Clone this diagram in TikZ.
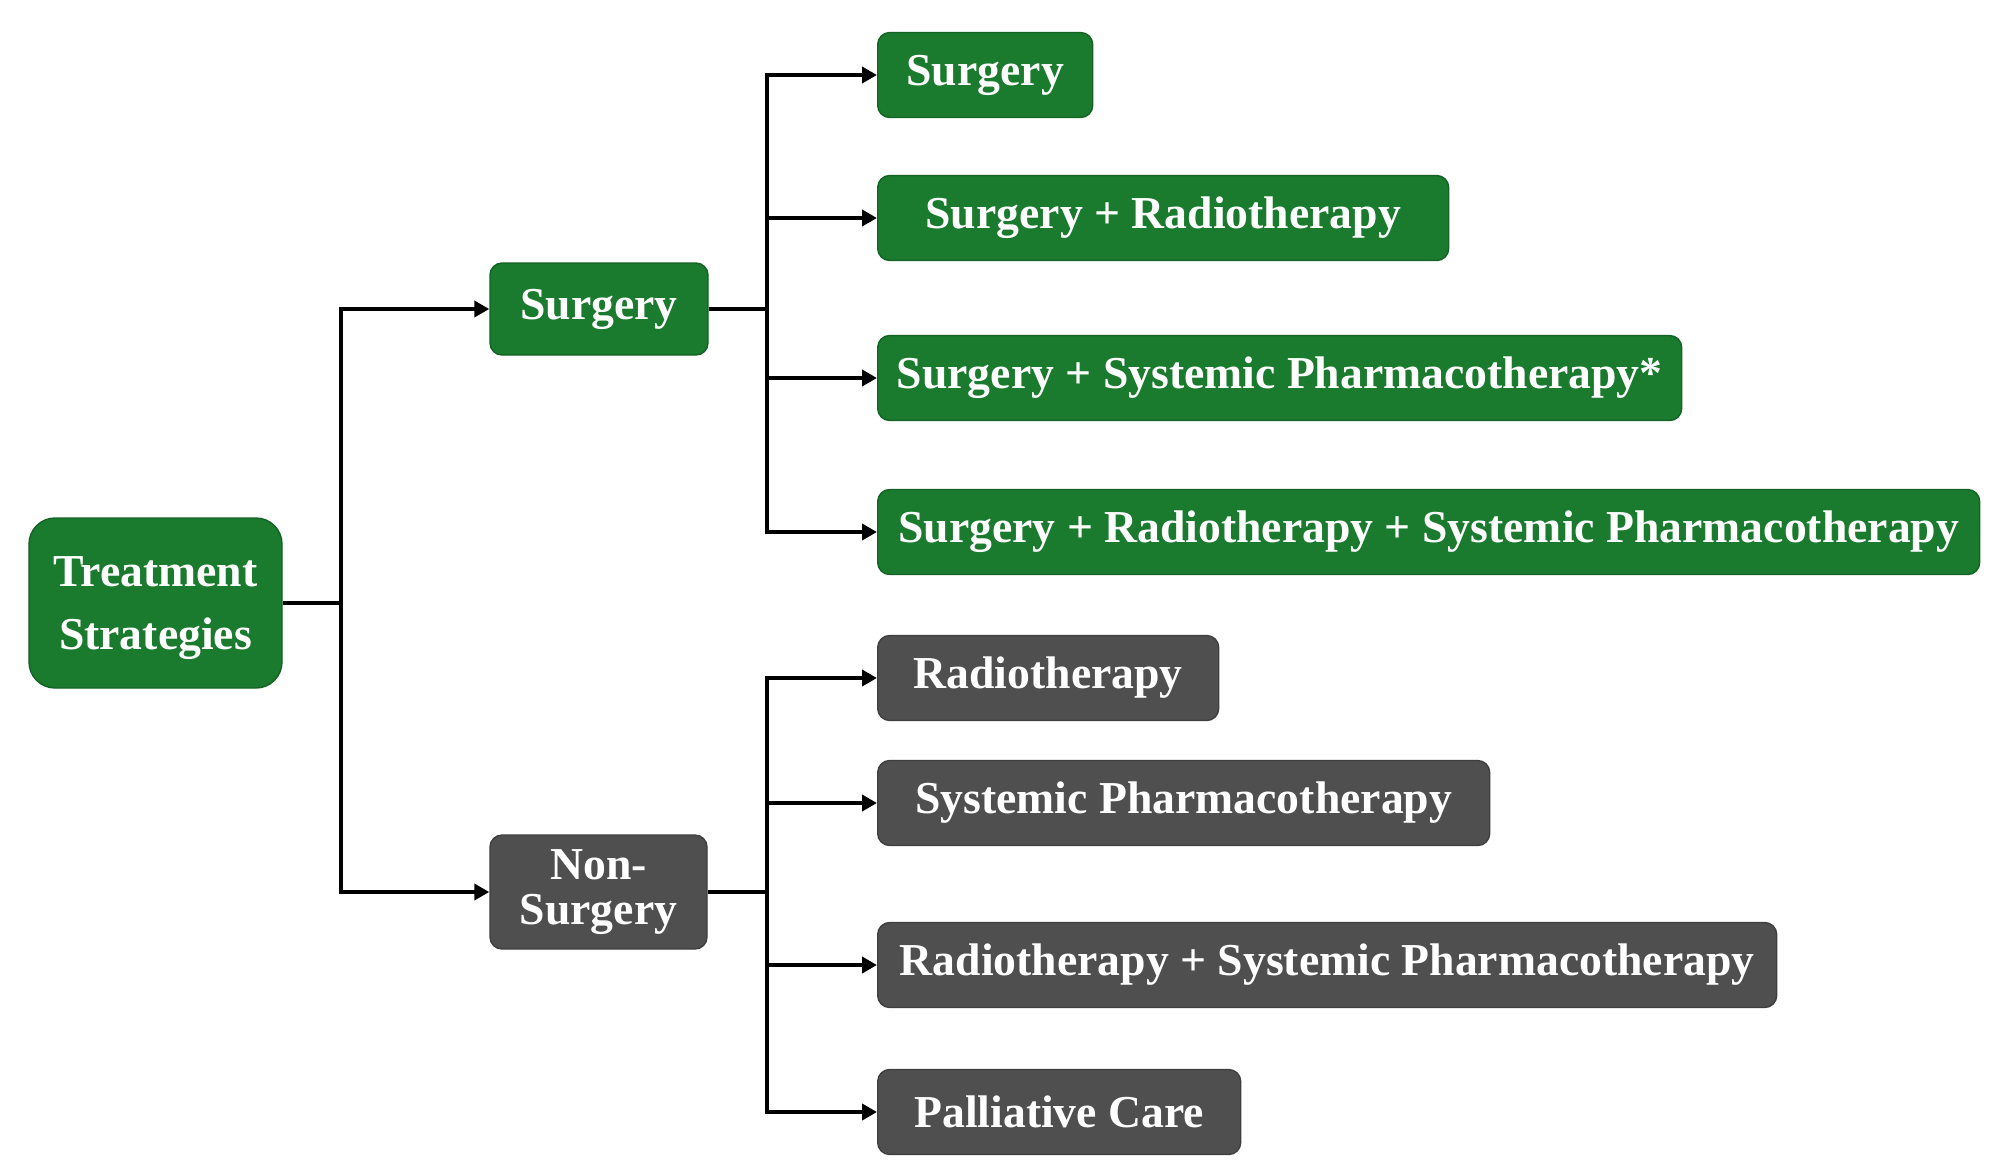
\documentclass[tikz,border=0pt]{standalone}
\usepackage{fontspec}
\setmainfont{Liberation Serif}
\usepackage{xcolor}
\usepackage{tikz}
\usetikzlibrary{arrows.meta,positioning,calc}
\definecolor{stratgreen}{HTML}{1A7A2E}
\definecolor{stratgray}{HTML}{4F4F4F}

\begin{document}
\begin{tikzpicture}[>={Triangle[length=1.5mm, width=1.6mm]}, line width=1.1pt,
  font=\fontsize{13}{15}\selectfont\bfseries,
  box/.style={text=white, rounded corners=1.2mm, minimum height=8.5mm, inner sep=1pt, line width=0.4pt},
  gbox/.style={box, fill=stratgreen, draw=stratgreen!80!black},
  dbox/.style={box, fill=stratgray, draw=stratgray!80!black},
  leaf/.style={anchor=west, minimum height=8.5mm}]
\useasboundingbox (0,0) rectangle (20.08,-11.74);
%% root and first split
\node[gbox, rounded corners=2.6mm, minimum width=25.3mm, minimum height=17mm, text depth=0pt, align=center] (ts) at (1.555,-6.03) {Treatment\\[3pt]Strategies};
\node[gbox, minimum width=21.8mm, minimum height=9.2mm] (sur) at (5.99,-3.09) {Surgery};
\node[dbox, minimum width=21.7mm, minimum height=11.4mm, align=center] (non) at (5.985,-8.92) {Non-\\[-2pt]Surgery};
\coordinate (j0) at (3.41,-6.03);
\draw (ts) -- (j0);
\draw[->] (j0) |- (sur);
\draw[->] (j0) |- (non);
%% surgery branch
\node[gbox, leaf, minimum width=21.5mm] (s1) at (8.77,-0.75) {Surgery};
\node[gbox, leaf, minimum width=57.1mm] (s2) at (8.77,-2.18) {Surgery + Radiotherapy};
\node[gbox, leaf, minimum width=80.4mm] (s3) at (8.77,-3.78) {Surgery + Systemic Pharmacotherapy*};
\node[gbox, leaf, minimum width=110.2mm] (s4) at (8.77,-5.32) {Surgery + Radiotherapy + Systemic Pharmacotherapy};
\coordinate (j1) at (7.67,-3.09);
\draw (sur) -- (j1);
\draw[->] (j1) |- (s1);
\draw[->] (j1) |- (s2);
\draw[->] (j1) |- (s3);
\draw[->] (j1) |- (s4);
%% non-surgery branch
\node[dbox, leaf, minimum width=34.1mm] (n1) at (8.77,-6.78) {Radiotherapy};
\node[dbox, leaf, minimum width=61.2mm] (n2) at (8.77,-8.03) {Systemic Pharmacotherapy};
\node[dbox, leaf, minimum width=89.9mm] (n3) at (8.77,-9.65) {Radiotherapy + Systemic Pharmacotherapy};
\node[dbox, leaf, minimum width=36.3mm] (n4) at (8.77,-11.12) {Palliative Care};
\coordinate (j2) at (7.67,-8.92);
\draw (non) -- (j2);
\draw[->] (j2) |- (n1);
\draw[->] (j2) |- (n2);
\draw[->] (j2) |- (n3);
\draw[->] (j2) |- (n4);
\end{tikzpicture}
\end{document}
